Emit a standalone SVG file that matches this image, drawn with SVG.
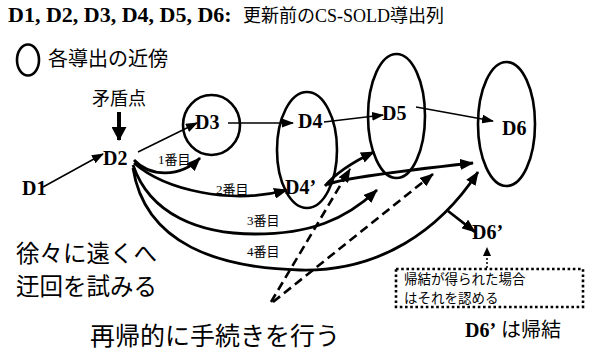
<svg xmlns="http://www.w3.org/2000/svg" width="590" height="351" viewBox="0 0 590 351">
<defs>
<style>
.lat{font-family:"Liberation Serif","Times New Roman",serif;font-weight:bold;fill:#000}
.jp{font-family:"Noto Sans CJK JP","Noto Sans",sans-serif;fill:#000}
.mix{font-family:"Liberation Serif","Noto Sans CJK JP",serif;fill:#000}
.ell{fill:none;stroke:#000;stroke-width:2.6}
.thin{fill:none;stroke:#000;stroke-width:1.5}
.thick{fill:none;stroke:#000;stroke-width:2.8}
.dash{fill:none;stroke:#000;stroke-width:2.6;stroke-dasharray:9 5}
</style>
<marker id="aThin" markerUnits="userSpaceOnUse" markerWidth="12" markerHeight="9" refX="11" refY="4.5" orient="auto"><path d="M0,0 L12,4.5 L0,9 z" fill="#000"/></marker>
<marker id="aThick" markerUnits="userSpaceOnUse" markerWidth="14" markerHeight="11" refX="13" refY="5.5" orient="auto"><path d="M0,0 L14,5.5 L0,11 z" fill="#000"/></marker>
<marker id="aDown" markerUnits="userSpaceOnUse" markerWidth="14" markerHeight="15" refX="13" refY="7.5" orient="auto"><path d="M0,0 L14,7.5 L0,15 z" fill="#000"/></marker>
<marker id="aSmall" markerUnits="userSpaceOnUse" markerWidth="9" markerHeight="8" refX="8" refY="4" orient="auto"><path d="M0,0 L9,4 L0,8 z" fill="#000"/></marker>
</defs>
<rect width="590" height="351" fill="#fff"/>

<g id="title">
<text class="lat" x="8" y="22" font-size="22">D1, D2, D3, D4, D5, D6:</text>
<text class="mix" x="243" y="22" font-size="18">更新前のCS-SOLD導出列</text>
</g>
<g id="legend">
<ellipse class="ell" cx="28" cy="60" rx="11" ry="15.5"/>
<text class="jp" x="48" y="66" font-size="20">各導出の近傍</text>
</g>

<g id="nodes">
<g id="n-D3"><ellipse class="ell" cx="211.5" cy="125" rx="28.5" ry="30"/><text class="lat" x="195" y="129" font-size="20">D3</text></g>
<g id="n-D4"><ellipse class="ell" cx="307" cy="150" rx="30" ry="58"/><text class="lat" x="298" y="128" font-size="20">D4</text><text class="lat" x="285" y="194" font-size="20">D4’</text></g>
<g id="n-D5"><ellipse class="ell" cx="396.5" cy="116" rx="28.5" ry="62"/><text class="lat" x="382" y="120" font-size="20">D5</text></g>
<g id="n-D6"><ellipse class="ell" cx="506.5" cy="124" rx="28.5" ry="62"/><text class="lat" x="502" y="135" font-size="20">D6</text></g>
<g id="n-D1"><text class="lat" x="22" y="195" font-size="20">D1</text></g>
<g id="n-D2"><text class="lat" x="103" y="165" font-size="20">D2</text></g>
<g id="n-D6p"><text class="lat" x="472" y="239" font-size="20">D6’</text></g>
<g id="n-conflict"><text class="jp" x="119" y="105" font-size="18" text-anchor="middle">矛盾点</text></g>
<g id="n-box">
<rect x="396" y="269" width="187" height="38" fill="none" stroke="#000" stroke-width="2.6" stroke-dasharray="2.6 2.6"/>
<text class="jp" x="404" y="284" font-size="13.5">帰結が得られた場合</text>
<text class="jp" x="404" y="303" font-size="13.5">はそれを認める</text>
</g>
</g>

<g id="connectors">
<line x1="119" y1="112" x2="119" y2="140" stroke="#000" stroke-width="4" marker-end="url(#aDown)"/>
<line class="thin" x1="43" y1="187" x2="103" y2="154" marker-end="url(#aThin)"/>
<line class="thin" x1="138" y1="152" x2="197" y2="123" marker-end="url(#aThin)"/>
<line class="thin" x1="228" y1="123" x2="293" y2="123" marker-end="url(#aThin)"/>
<line class="thin" x1="324" y1="122" x2="383" y2="115" marker-end="url(#aThin)"/>
<line class="thin" x1="416" y1="107" x2="493" y2="121" marker-end="url(#aThin)"/>

<path class="thick" d="M134,160 C150,177 180,178 200,158" marker-end="url(#aThick)"/>
<path class="thick" d="M134,163 C165,190 230,205 287,190" marker-end="url(#aThick)"/>
<path class="thick" d="M133,165 C150,215 200,234 255,234 S345,220 377,190" marker-end="url(#aThick)"/>
<path class="thick" d="M133,168 C145,245 220,268 300,270 S440,230 478,172" marker-end="url(#aThick)"/>

<path class="thick" d="M325,186 Q340,168 374,152" marker-end="url(#aThick)"/>
<path class="thick" d="M327,185 Q336,178 473,163" marker-end="url(#aThick)"/>
<line class="thick" x1="448" y1="211" x2="475" y2="232" marker-end="url(#aThick)"/>

<line class="dash" x1="271" y1="302" x2="350" y2="169" marker-end="url(#aThick)"/>
<line class="dash" x1="273" y1="302" x2="433" y2="174" marker-end="url(#aThick)"/>

<line x1="487" y1="268" x2="487" y2="248" stroke="#000" stroke-width="1.5" stroke-dasharray="2 2" marker-end="url(#aSmall)"/>

<text class="mix" x="158" y="164" font-size="13">1番目</text>
<text class="mix" x="216" y="194" font-size="13">2番目</text>
<text class="mix" x="247" y="225" font-size="13">3番目</text>
<text class="mix" x="247" y="256" font-size="13">4番目</text>
</g>

<g id="notes">
<text class="jp" x="16" y="262" font-size="23.5">徐々に遠くへ</text>
<text class="jp" x="16" y="295" font-size="23.5">迂回を試みる</text>
<text class="jp" x="90" y="345" font-size="25">再帰的に手続きを行う</text>
<text x="465" y="337" font-size="20"><tspan class="lat">D6’</tspan><tspan class="jp" dx="5">は帰結</tspan></text>
</g>
</svg>
